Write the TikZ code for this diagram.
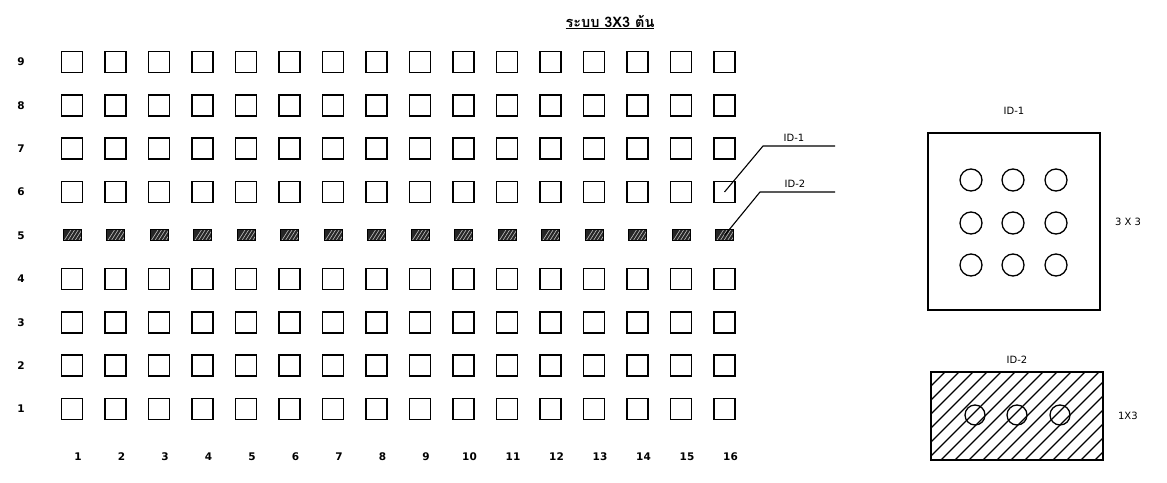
\documentclass[tikz,border=0pt]{standalone}
\usepackage{fontspec}
\setsansfont{DejaVu Sans}
\newfontfamily\thaifont[Script=Thai]{Loma}
\usetikzlibrary{positioning}

\tikzset{
  cell/.style={draw, line width=1.6pt, minimum size=21pt, inner sep=0pt},
  hatchcell/.style={draw, line width=1pt, fill=black!85, minimum width=18pt,
    minimum height=11pt, inner sep=0pt,
    path picture={
      \foreach \k in {0,...,4}
        \draw[white!75!black, line width=0.6pt]
          ([xshift=\k*3.6pt+1pt]path picture bounding box.south west) -- ++(7,-11);
    }},
  lab/.style={font=\sffamily\bfseries\fontsize{10.5}{12}\selectfont, inner sep=1pt},
  tag/.style={font=\sffamily\fontsize{10}{12}\selectfont, inner sep=1pt},
  hole/.style={circle, draw, line width=1.3pt, minimum size=22pt, inner sep=0pt},
  leader/.style={line width=1.1pt}
}

\begin{document}
\begin{tikzpicture}[x=1pt, y=-1pt]
\useasboundingbox (0,0) rectangle (1167,482);

% Title
\node[font=\thaifont\bfseries\fontsize{14.5}{16}\selectfont] (title) at (610,22)
  {\underline{ระบบ 3X3 ต้น}};

% Plot grid
\foreach \r in {1,2,3,4,6,7,8,9}
  \foreach \c in {1,...,16}
    \node[cell] (s\c-\r) at ({72+(\c-1)*43.5},{409-(\r-1)*43.4}) {};

% Hatched row
\foreach \c in {1,...,16}
  \node[hatchcell] (s\c-5) at ({72+(\c-1)*43.5},{409-4*43.4}) {};

% Row numbers
\foreach \r in {1,...,9}
  \node[lab] (row\r) at (21,{409-(\r-1)*43.4}) {\r};

% Column numbers
\foreach \c in {1,...,16}
  \node[lab] (col\c) at ({78+(\c-1)*43.5},457) {\c};

% Leaders to the two plot types
\node[tag] (tag1) at (794,138) {ID-1};
\coordinate (k1) at (763,146);
\coordinate (e1) at (835,146);
\draw[leader] (s16-6.center) -- (k1) -- (e1);

\node[tag] (tag2) at (795,184) {ID-2};
\coordinate (k2) at (760,192);
\coordinate (e2) at (835,192);
\draw[leader] (s16-5.center) -- (k2) -- (e2);

% ID-1 detail
\node[draw, line width=1.8pt, minimum width=172pt, minimum height=177pt] (box1) at (1014,221.5) {};
\node[tag, above=16pt of box1] (name1) {ID-1};
\node[tag, right=13pt of box1] (size1) {3 X 3};
\foreach \i/\x in {1/971,2/1013,3/1056}
  \foreach \j/\y in {1/180,2/223,3/265}
    \node[hole] (p\i\j) at (\x,\y) {};

% ID-2 detail
\begin{scope}
\clip (931,372) rectangle (1103,460);
\foreach \k in {0,...,19}
  \draw[line width=1.1pt] ({843+\k*14},460) -- ++(100,-100);
\end{scope}
\node[draw, line width=1.8pt, minimum width=172pt, minimum height=88pt] (box2) at (1017,416) {};
\node[tag, above=6pt of box2] (name2) {ID-2};
\node[tag, right=13pt of box2] (size2) {1X3};
\foreach \i/\x in {1/975,2/1017,3/1060}
  \node[hole, minimum size=20pt] (q\i) at (\x,415) {};

\end{tikzpicture}
\end{document}
